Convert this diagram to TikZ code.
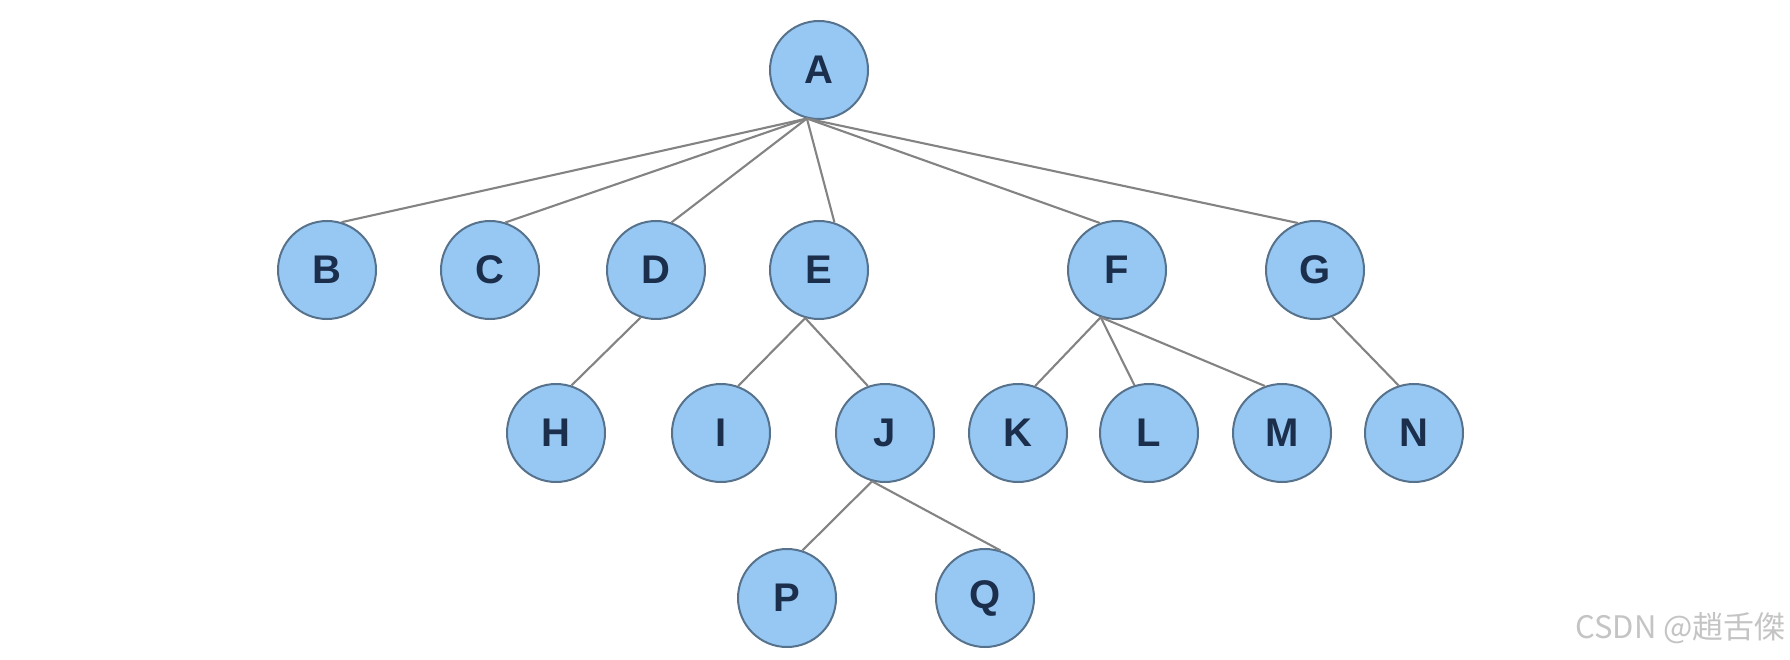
\documentclass[tikz,border=0pt]{standalone}
\usepackage{fontspec}
\setmainfont{Liberation Sans}
\newfontfamily\cjkwm{Noto Sans CJK SC}
\definecolor{nodefill}{HTML}{97C8F4}
\definecolor{nodeborder}{HTML}{56728C}
\definecolor{nodetext}{HTML}{1B2F4C}
\definecolor{edgegray}{HTML}{838383}
\definecolor{wmgray}{HTML}{C4C4C4}
\begin{document}
\begin{tikzpicture}[x=1pt,y=-1pt,
  tnode/.style={circle,draw=nodeborder,fill=nodefill,line width=2pt,minimum size=98pt,inner sep=0pt,
    font=\fontsize{40}{42}\selectfont\bfseries,text=nodetext},
  edge/.style={draw=edgegray,line width=2.1pt}]
\useasboundingbox[fill=white] (0,0) rectangle (1790,660);
% level 0
\node[tnode] (A) at (819,70) {A};
% level 1
\node[tnode] (B) at (327,270) {B};
\node[tnode] (C) at (490,270) {C};
\node[tnode] (D) at (656,270) {D};
\node[tnode] (E) at (819,270) {E};
\node[tnode] (F) at (1117,270) {F};
\node[tnode] (G) at (1315,270) {G};
% level 2
\node[tnode] (H) at (556,433) {H};
\node[tnode] (I) at (721,433) {I};
\node[tnode] (J) at (885,433) {J};
\node[tnode] (K) at (1018,433) {K};
\node[tnode] (L) at (1149,433) {L};
\node[tnode] (M) at (1282,433) {M};
\node[tnode] (N) at (1414,433) {N};
% level 3
\node[tnode] (P) at (787,598) {P};
\node[tnode] (Q) at (985,598) {Q};
% edges
\path[edge] (A.256) -- (B.73);
\path[edge] (A.256) -- (C.72);
\path[edge] (A.256) -- (D.72);
\path[edge] (A.256) -- (E.72);
\path[edge] (A.256) -- (F.110);
\path[edge] (A.256) -- (G.110);
\path[edge] (D.252) -- (H.72);
\path[edge] (E.254) -- (I.70);
\path[edge] (E.254) -- (J.110);
\path[edge] (F.251) -- (K.70);
\path[edge] (F.251) -- (L.107);
\path[edge] (F.251) -- (M.110);
\path[edge] (G.290) -- (N.108);
\path[edge] (J.255) -- (P.72);
\path[edge] (J.255) -- (Q.72);
% watermark
\node[anchor=base east,inner sep=0pt,text=wmgray,font=\cjkwm\fontsize{31}{34}\selectfont] (wm) at (1786,638) {CSDN @趙舌傑};
\end{tikzpicture}
\end{document}
